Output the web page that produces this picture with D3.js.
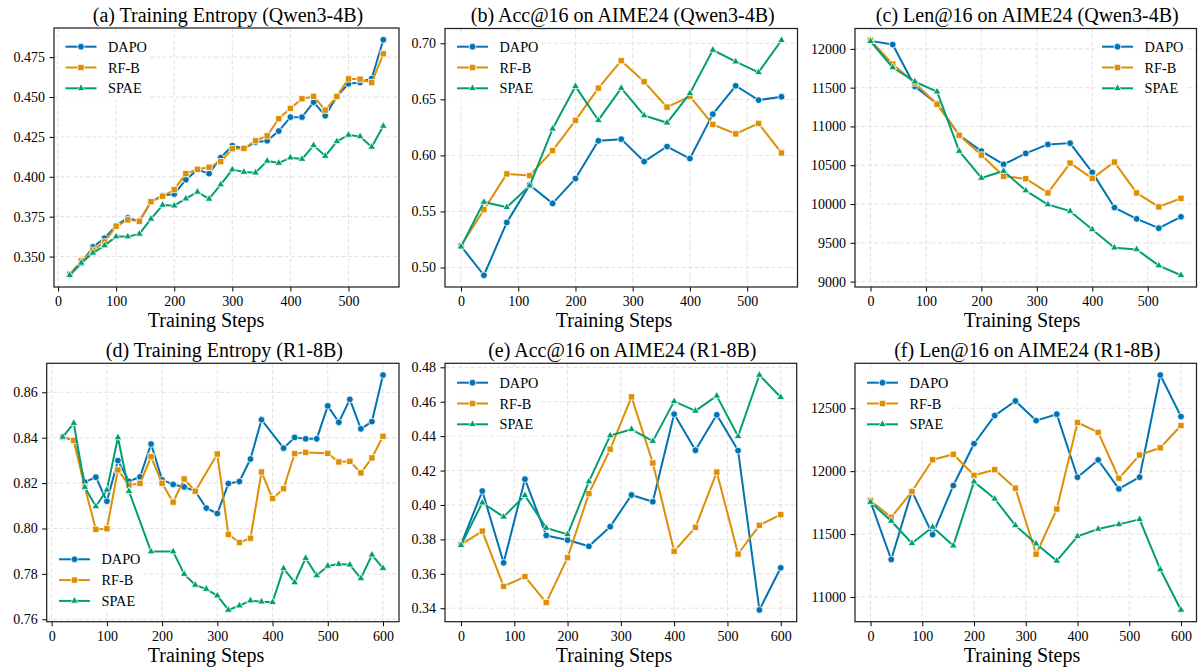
<!DOCTYPE html>
<html>
<head>
<meta charset="utf-8">
<script src="https://cdn.jsdelivr.net/npm/d3@7"></script>
<style>
  body { margin: 0; background: #fff; }
  svg { display: block; font-family: "Liberation Serif", "Times New Roman", serif; }
</style>
</head>
<body>
<div id="chart"></div>
<script>
var width = 1201, height = 670;

var seriesNames = ["DAPO", "RF-B", "SPAE"];
var colors = ["#0173B2", "#DE8F05", "#029E73"];

// (a) Training Entropy (Qwen3-4B)
var stepsA = [20, 40, 60, 80, 100, 120, 140, 160, 180, 200, 220, 240, 260, 280, 300, 320, 340, 360, 380, 400, 420, 440, 460, 480, 500, 520, 540, 560];
var dapoA = [0.3385, 0.3460, 0.3560, 0.3615, 0.3694, 0.3742, 0.3721, 0.3844, 0.3882, 0.3892, 0.3982, 0.4045, 0.4020, 0.4120, 0.4195, 0.4178, 0.4216, 0.4226, 0.4287, 0.4374, 0.4374, 0.4468, 0.4383, 0.4504, 0.4583, 0.4591, 0.4616, 0.4859];
var rfbA = [0.3390, 0.3473, 0.3540, 0.3592, 0.3690, 0.3730, 0.3721, 0.3844, 0.3878, 0.3920, 0.4020, 0.4047, 0.4060, 0.4095, 0.4176, 0.4178, 0.4226, 0.4257, 0.4364, 0.4429, 0.4489, 0.4504, 0.4418, 0.4504, 0.4614, 0.4612, 0.4591, 0.4771];
var spaeA = [0.3383, 0.3460, 0.3523, 0.3569, 0.3625, 0.3625, 0.3642, 0.3736, 0.3823, 0.3819, 0.3863, 0.3905, 0.3861, 0.3951, 0.4045, 0.4030, 0.4026, 0.4099, 0.4086, 0.4120, 0.4111, 0.4197, 0.4130, 0.4222, 0.4262, 0.4253, 0.4187, 0.4318];

// (b) Acc@16 on AIME24 (Qwen3-4B)
var stepsB = [0, 40, 80, 120, 160, 200, 240, 280, 320, 360, 400, 440, 480, 520, 560];
var dapoB = [0.519, 0.4931, 0.5402, 0.5736, 0.5572, 0.5793, 0.613, 0.6145, 0.5945, 0.6079, 0.5972, 0.6368, 0.6621, 0.6493, 0.6523];
var rfbB = [0.5194, 0.5516, 0.5835, 0.582, 0.6043, 0.6312, 0.66, 0.6845, 0.6657, 0.6431, 0.6526, 0.6276, 0.6192, 0.6285, 0.6022];
var spaeB = [0.5185, 0.5584, 0.5537, 0.573, 0.6237, 0.6616, 0.6314, 0.66, 0.6356, 0.6291, 0.6553, 0.694, 0.6836, 0.6741, 0.7027];

// (c) Len@16 on AIME24 (Qwen3-4B)
var stepsC = [0, 40, 80, 120, 160, 200, 240, 280, 320, 360, 400, 440, 480, 520, 560];
var dapoC = [12103, 12056, 11516, 11294, 10887, 10682, 10511, 10652, 10768, 10785, 10408, 9955, 9809, 9689, 9835];
var rfbC = [12111, 11803, 11559, 11285, 10887, 10631, 10357, 10327, 10143, 10528, 10331, 10541, 10143, 9963, 10074];
var spaeC = [12098, 11760, 11576, 11448, 10682, 10336, 10425, 10173, 9993, 9908, 9672, 9437, 9415, 9206, 9082];

// (d) Training Entropy (R1-8B) -- some steps are missing per series
var dapoStepsD = [20, 40, 60, 80, 100, 120, 140, 160, 180, 200, 220, 240, 260, 280, 300, 320, 340, 360, 380, 420, 440, 460, 480, 500, 520, 540, 560, 580, 600];
var dapoD = [0.8403, 0.8388, 0.8204, 0.8226, 0.8120, 0.8299, 0.8208, 0.8227, 0.8372, 0.8214, 0.8194, 0.8183, 0.8164, 0.8090, 0.8066, 0.8198, 0.8207, 0.8306, 0.8479, 0.8354, 0.8401, 0.8395, 0.8395, 0.8540, 0.8468, 0.8569, 0.8439, 0.8471, 0.8676];
var rfbStepsD = [20, 40, 60, 80, 100, 120, 140, 160, 180, 200, 220, 240, 260, 300, 320, 340, 360, 380, 400, 420, 440, 460, 500, 520, 540, 560, 580, 600];
var rfbD = [0.8403, 0.8388, 0.8182, 0.7996, 0.7999, 0.8258, 0.8191, 0.8199, 0.8316, 0.8199, 0.8116, 0.8218, 0.8164, 0.8328, 0.7974, 0.7938, 0.7957, 0.8249, 0.8132, 0.8175, 0.8330, 0.8335, 0.8331, 0.8293, 0.8296, 0.8245, 0.8311, 0.8406];
var spaeStepsD = [20, 40, 60, 80, 100, 120, 140, 180, 220, 240, 260, 280, 300, 320, 340, 360, 380, 400, 420, 440, 460, 480, 500, 520, 540, 560, 580, 600];
var spaeD = [0.8403, 0.8464, 0.8182, 0.8097, 0.8170, 0.8401, 0.8164, 0.7898, 0.7898, 0.7799, 0.7751, 0.7733, 0.7704, 0.7641, 0.7660, 0.7682, 0.7677, 0.7675, 0.7824, 0.7762, 0.7869, 0.7793, 0.7835, 0.7843, 0.7840, 0.7780, 0.7884, 0.7825];

// (e) Acc@16 on AIME24 (R1-8B)
var stepsE = [0, 40, 80, 120, 160, 200, 240, 280, 320, 360, 400, 440, 480, 520, 560, 600];
var dapoE = [0.377, 0.4081, 0.3664, 0.415, 0.3823, 0.3796, 0.376, 0.3874, 0.4058, 0.4019, 0.4528, 0.4318, 0.4524, 0.4316, 0.339, 0.3635];
var rfbE = [0.377, 0.3848, 0.3527, 0.3584, 0.3433, 0.3694, 0.4066, 0.4324, 0.4628, 0.4244, 0.3731, 0.387, 0.4191, 0.3715, 0.3882, 0.3944];
var spaeE = [0.3766, 0.4013, 0.3931, 0.4056, 0.3866, 0.3829, 0.4136, 0.4403, 0.444, 0.4371, 0.4602, 0.4547, 0.4634, 0.4399, 0.4755, 0.4626];

// (f) Len@16 on AIME24 (R1-8B)
var stepsF = [0, 40, 80, 120, 160, 200, 240, 280, 320, 360, 400, 440, 480, 520, 560, 600];
var dapoF = [11757, 11298, 11841, 11496, 11886, 12218, 12442, 12558, 12402, 12453, 11952, 12089, 11859, 11952, 12764, 12434];
var rfbF = [11767, 11633, 11838, 12091, 12134, 11967, 12012, 11865, 11340, 11699, 12387, 12308, 11944, 12128, 12186, 12363];
var spaeF = [11754, 11604, 11427, 11556, 11408, 11917, 11780, 11569, 11424, 11287, 11482, 11540, 11577, 11617, 11219, 10897];

// tick values
var xTicks560 = [0, 100, 200, 300, 400, 500];
var xTicks600 = [0, 100, 200, 300, 400, 500, 600];
var yTicksA = [0.350, 0.375, 0.400, 0.425, 0.450, 0.475];
var yTicksB = [0.50, 0.55, 0.60, 0.65, 0.70];
var yTicksC = [9000, 9500, 10000, 10500, 11000, 11500, 12000];
var yTicksD = [0.76, 0.78, 0.80, 0.82, 0.84, 0.86];
var yTicksE = [0.34, 0.36, 0.38, 0.40, 0.42, 0.44, 0.46, 0.48];
var yTicksF = [11000, 11500, 12000, 12500];

var panels = [
    { title: "(a) Training Entropy (Qwen3-4B)", box: [54, 28, 399, 287], labelX: 206,
      steps: [stepsA, stepsA, stepsA], values: [dapoA, rfbA, spaeA],
      xTicks: xTicks560, yTicks: yTicksA, fmt: ".3f", legend: [65.5, 46.7] },
    { title: "(b) Acc@16 on AIME24 (Qwen3-4B)", box: [445, 28.5, 797.5, 287], labelX: 614,
      steps: [stepsB, stepsB, stepsB], values: [dapoB, rfbB, spaeB],
      xTicks: xTicks560, yTicks: yTicksB, fmt: ".2f", legend: [457, 46.7] },
    { title: "(c) Len@16 on AIME24 (Qwen3-4B)", box: [855, 28.5, 1196.5, 287], labelX: 1022,
      steps: [stepsC, stepsC, stepsC], values: [dapoC, rfbC, spaeC],
      xTicks: xTicks560, yTicks: yTicksC, fmt: "d", legend: [1102, 46.7] },
    { title: "(d) Training Entropy (R1-8B)", box: [46.7, 363.3, 399, 621.7], labelX: 206,
      steps: [dapoStepsD, rfbStepsD, spaeStepsD], values: [dapoD, rfbD, spaeD],
      xTicks: xTicks600, yTicks: yTicksD, fmt: ".2f", legend: [59, 559.3] },
    { title: "(e) Acc@16 on AIME24 (R1-8B)", box: [445, 363.3, 796.7, 621.7], labelX: 614,
      steps: [stepsE, stepsE, stepsE], values: [dapoE, rfbE, spaeE],
      xTicks: xTicks600, yTicks: yTicksE, fmt: ".2f", legend: [457, 382.7] },
    { title: "(f) Len@16 on AIME24 (R1-8B)", box: [855, 363.3, 1196.5, 621.7], labelX: 1022,
      steps: [stepsF, stepsF, stepsF], values: [dapoF, rfbF, spaeF],
      xTicks: xTicks600, yTicks: yTicksF, fmt: "d", legend: [867, 382.7] }
];

var symbols = [d3.symbolCircle, d3.symbolSquare, d3.symbolTriangle];
var symbolSizes = [36, 40, 26];

var svg = d3.select("#chart").append("svg").attr("width", width).attr("height", height);

panels.forEach(drawPanel);

// autoscale like matplotlib: data extent plus 5% margin each side
function padded(ext){
    var m = (ext[1] - ext[0]) * 0.05;
    return [ext[0] - m, ext[1] + m];
}

function drawPanel(p){
    var x0 = p.box[0], y0 = p.box[1], x1 = p.box[2], y1 = p.box[3];
    var allX = d3.merge(p.steps), allY = d3.merge(p.values);

    var x = d3.scaleLinear().domain(padded(d3.extent(allX))).range([x0, x1]);
    var y = d3.scaleLinear().domain(padded(d3.extent(allY))).range([y1, y0]);

    var g = svg.append("g");

    // grid
    g.append("g").selectAll("line.gx").data(p.xTicks).enter().append("line")
        .attr("x1", function(d){ return x(d); }).attr("x2", function(d){ return x(d); })
        .attr("y1", y0).attr("y2", y1)
        .attr("stroke", "#dedede").attr("stroke-width", 0.9).attr("stroke-dasharray", "4,2.4");
    g.append("g").selectAll("line.gy").data(p.yTicks).enter().append("line")
        .attr("x1", x0).attr("x2", x1)
        .attr("y1", function(d){ return y(d); }).attr("y2", function(d){ return y(d); })
        .attr("stroke", "#dedede").attr("stroke-width", 0.9).attr("stroke-dasharray", "4,2.4");

    // axes
    var xAxis = g.append("g").attr("transform", "translate(0," + y1 + ")")
        .call(d3.axisBottom(x).tickValues(p.xTicks).tickSize(4.5).tickPadding(5).tickFormat(d3.format("d")));
    var yAxis = g.append("g").attr("transform", "translate(" + x0 + ",0)")
        .call(d3.axisLeft(y).tickValues(p.yTicks).tickSize(4.5).tickPadding(4.5).tickFormat(d3.format(p.fmt)));
    [xAxis, yAxis].forEach(function(a){
        a.select(".domain").remove();
        a.selectAll(".tick line").attr("stroke", "#000").attr("stroke-width", 1);
        a.selectAll(".tick text").attr("fill", "#000").style("font-size", "14px")
            .style("font-family", "'Liberation Serif', 'Times New Roman', serif");
    });

    // lines and markers
    p.values.forEach(function(vals, i){
        var pts = d3.zip(p.steps[i], vals);
        var line = d3.line().x(function(d){ return x(d[0]); }).y(function(d){ return y(d[1]); });
        g.append("path").datum(pts)
            .attr("d", line)
            .attr("fill", "none")
            .attr("stroke", colors[i])
            .attr("stroke-width", 2)
            .attr("stroke-linejoin", "round");
        g.append("g").selectAll("path").data(pts).enter().append("path")
            .attr("d", d3.symbol().type(symbols[i]).size(symbolSizes[i]))
            .attr("transform", function(d){ return "translate(" + x(d[0]) + "," + y(d[1]) + ")"; })
            .attr("fill", colors[i])
            .attr("stroke", "#fff")
            .attr("stroke-width", 0.8);
    });

    // spines
    g.append("rect").attr("x", x0).attr("y", y0).attr("width", x1 - x0).attr("height", y1 - y0)
        .attr("fill", "none").attr("stroke", "#222").attr("stroke-width", 1.25);

    // legend
    var lx = p.legend[0], ly = p.legend[1], rowH = 20.8;
    var leg = g.append("g");
    leg.append("rect")
        .attr("x", lx - 7).attr("y", ly - 12)
        .attr("width", 90).attr("height", rowH * 2 + 24)
        .attr("fill", "#fff").attr("fill-opacity", 0.8);
    seriesNames.forEach(function(name, i){
        var yy = ly + i * rowH;
        leg.append("line").attr("x1", lx).attr("x2", lx + 31).attr("y1", yy).attr("y2", yy)
            .attr("stroke", colors[i]).attr("stroke-width", 2);
        leg.append("path")
            .attr("d", d3.symbol().type(symbols[i]).size(symbolSizes[i]))
            .attr("transform", "translate(" + (lx + 15.5) + "," + yy + ")")
            .attr("fill", colors[i]).attr("stroke", "#fff").attr("stroke-width", 0.8);
        leg.append("text").attr("x", lx + 42.5).attr("y", yy).attr("dy", "0.35em")
            .style("font-size", "14.3px").attr("fill", "#000").text(name);
    });

    // title and x label
    svg.append("text").attr("x", (x0 + x1) / 2 + 1.5).attr("y", y0 - 6.3)
        .attr("text-anchor", "middle").style("font-size", "20px").attr("fill", "#000")
        .text(p.title);
    svg.append("text").attr("x", p.labelX).attr("y", y1 + 39.8)
        .attr("text-anchor", "middle").style("font-size", "20px").attr("fill", "#000")
        .text("Training Steps");
}
</script>
</body>
</html>
